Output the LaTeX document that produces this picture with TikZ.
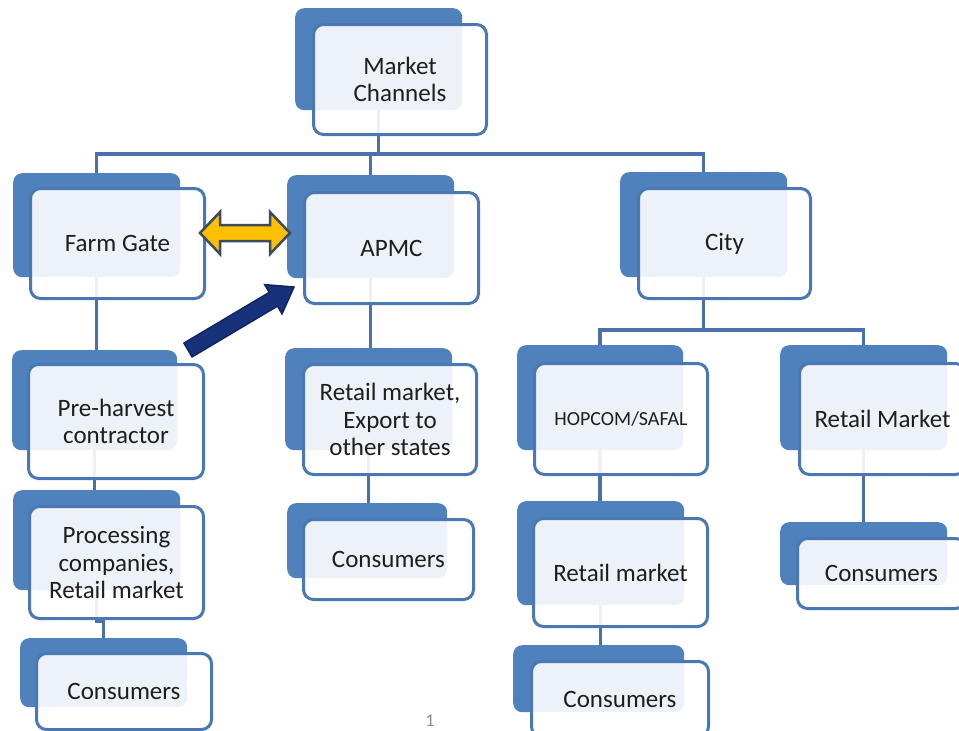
\documentclass[tikz,border=0pt]{standalone}
\usepackage{fontspec}
\setmainfont{Carlito}
\usetikzlibrary{calc,backgrounds}

\definecolor{backblue}{HTML}{4F81BD}
\definecolor{frontline}{HTML}{4A78B2}
\definecolor{linkblue}{HTML}{4A72A8}
\definecolor{txt}{HTML}{1E1E1E}
\definecolor{gold}{HTML}{FFC000}
\definecolor{goldline}{HTML}{3E4A5E}
\definecolor{navy}{HTML}{17317A}
\definecolor{navyline}{HTML}{0F2461}

\tikzset{
  backbox/.style={fill=backblue, draw=none, rounded corners=9pt, inner sep=0pt, anchor=north west},
  frontbox/.style={fill=white, fill opacity=0.9, text opacity=1, draw=frontline,
    line width=3pt, rounded corners=10pt, inner sep=0pt, anchor=north west,
    align=center, text=txt, font=\fontsize{25}{27.5}\selectfont},
  conn/.style={draw=linkblue, line width=3.5pt},
  goldarrow/.style={fill=gold, draw=goldline, line width=2.5pt, line join=miter},
  navyarrow/.style={fill=navy, draw=navyline, line width=1.5pt, line join=miter},
}

% #1 name, #2 back top-left, #3/#4 back size, #5 front top-left, #6/#7 front size, #8 text
\newcommand\chanbox[8]{%
  \node[backbox, minimum width=#3, minimum height=#4] (#1b) at (#2) {};
  \node[frontbox, minimum width=#6, minimum height=#7] (#1) at (#5) {#8};
}

\begin{document}
\begin{tikzpicture}[x=1pt,y=-1pt]
  \useasboundingbox (0,0) rectangle (959,731);

  % channel boxes
  \chanbox{mc}{295,8}{167pt}{102pt}{312,23}{173pt}{110pt}{Market\\Channels}
  \chanbox{fg}{13,173}{167pt}{104pt}{29,187}{174pt}{110pt}{Farm Gate}
  \chanbox{ap}{287,175}{167pt}{103pt}{303,191}{174pt}{111pt}{APMC}
  \chanbox{cit}{620,172}{167pt}{105pt}{637,187}{172pt}{110pt}{City}
  \chanbox{ph}{12,350}{165pt}{100pt}{27,363}{175pt}{114pt}{Pre-harvest\\contractor}
  \chanbox{pr}{13,490}{167pt}{100pt}{28,505}{174pt}{112pt}{Processing\\companies,\\Retail market}
  \chanbox{cl}{20,638}{167pt}{69pt}{35,652}{175pt}{76pt}{Consumers}
  \chanbox{re}{285,348}{167pt}{102pt}{302,363}{173pt}{110pt}{Retail market,\\Export to\\other states}
  \chanbox{cm}{287,503}{160pt}{75pt}{302,518}{170pt}{80pt}{Consumers}
  \chanbox{hop}{517,345}{166pt}{105pt}{533,362}{173pt}{111pt}{\fontsize{20}{24}\selectfont HOPCOM/SAFAL}
  \chanbox{rmr}{780,345}{167pt}{105pt}{798,362}{166pt}{111pt}{Retail Market}
  \chanbox{rmc}{517,501}{167pt}{104pt}{532,517}{174pt}{108pt}{Retail market}
  \chanbox{cc}{513,645}{171pt}{67pt}{530,660}{177pt}{75pt}{Consumers}
  \chanbox{cr}{780,522}{167pt}{63pt}{796,537}{168pt}{70pt}{Consumers}

  % white page and tree connectors, kept behind the boxes
  \coordinate (bar1) at (0,154);
  \coordinate (bar2) at (0,330);
  \coordinate (j1) at (100,621);
  \begin{pgfonlayer}{background}
    \fill[white] (0,0) rectangle (959,731);
    \draw[conn] (mcb.center) -- (mcb.center |- bar1);
    \draw[conn] (fgb.center) |- (citb.center |- bar1) -- (citb.center);
    \draw[conn] (apb.center) -- (apb.center |- bar1);
    \draw[conn] (fgb.center) -- (fgb.center |- phb.center);
    \draw[conn] (phb.center) -- (phb.center |- prb.center);
    \draw[conn] (prb.center) |- (j1) -| (clb.center);
    \draw[conn] (apb.center) -- (apb.center |- reb.center);
    \draw[conn] (reb.center) -- (reb.center |- cmb.center);
    \draw[conn] (citb.center) -- (citb.center |- bar2);
    \draw[conn] (hopb.center) |- (rmrb.center |- bar2) -- (rmrb.center);
    \draw[conn] (hopb.center) -- (hopb.center |- rmcb.center);
    \draw[conn] (rmcb.center) -- (rmcb.center |- ccb.center);
    \draw[conn] (rmrb.center) -- (rmrb.center |- crb.center);
  \end{pgfonlayer}

  % two-way arrow between Farm Gate and APMC
  \coordinate (ya) at (200,233);
  \coordinate (yb) at (290,233);
  \draw[goldarrow] (ya) -- ++(20,-21) -- ++(0,13) -- ($(yb)+(-20,-8)$) -- ++(0,-13)
    -- (yb) -- ++(-20,21) -- ++(0,-13) -- ($(ya)+(20,8)$) -- ++(0,13) -- cycle;

  % arrow from the pre-harvest contractor towards APMC
  \coordinate (na) at (188,350);
  \coordinate (nb) at (294,287);
  \coordinate (nh) at ($(nb)!24pt!(na)$);
  \draw[navyarrow] ($(na)!8pt!90:(nb)$) -- ($(nh)!8pt!-90:(na)$) -- ($(nh)!17pt!-90:(na)$)
    -- (nb) -- ($(nh)!17pt!90:(na)$) -- ($(nh)!8pt!90:(na)$) -- ($(na)!8pt!-90:(nb)$) -- cycle;

  % page number
  \node[text=black!45, font=\fontsize{18}{20}\selectfont] (pg) at (430,721) {1};
\end{tikzpicture}
\end{document}
